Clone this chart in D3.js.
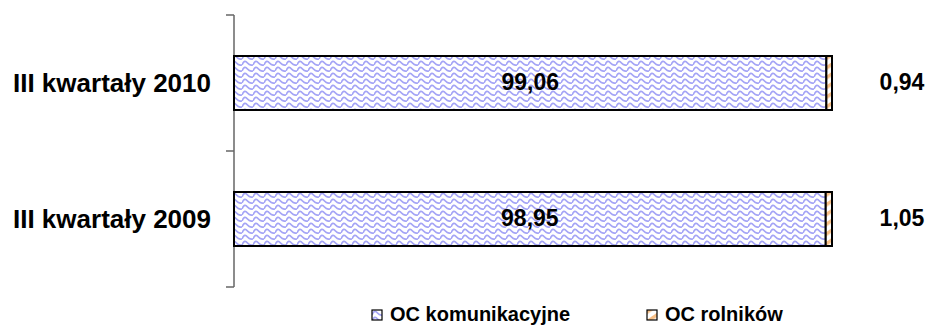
<!DOCTYPE html>
<html>
<head>
<meta charset="utf-8">
<script src="https://cdn.jsdelivr.net/npm/d3@7"></script>
<style>
	body { margin: 0; background: #fff; }
	svg { display: block; font-family: "Liberation Sans", Arial, sans-serif; font-weight: bold; }
</style>
</head>
<body>
<svg id="chart"></svg>
<script>
let width = 938;
let height = 327;
// dane z wykresu (udział w %)
const categories = ['III kwartały 2010', 'III kwartały 2009'];
const seriesNames = ['OC komunikacyjne', 'OC rolników'];
const komunikacyjne = [99.06, 98.95];
const rolnikow = [0.94, 1.05];

const svg = d3.select('#chart').attr('width', width).attr('height', height);
const defs = svg.append('defs');

// wzór falisty (niebieski)
let wave = defs.append('pattern')
	.attr('id', 'wave')
	.attr('patternUnits', 'userSpaceOnUse')
	.attr('width', 11)
	.attr('height', 6);
wave.append('rect').attr('width', 11).attr('height', 6).attr('fill', '#fff');
wave.append('path')
	.attr('d', 'M0,4.8 C2,0.6 3.5,0.6 5.5,3 S9,5.6 11,4.8')
	.attr('fill', 'none')
	.attr('stroke', '#a4a4f6')
	.attr('stroke-width', 1.7);

// wzór ukośny (pomarańczowy)
let hatch = defs.append('pattern')
	.attr('id', 'hatch')
	.attr('patternUnits', 'userSpaceOnUse')
	.attr('width', 8)
	.attr('height', 8)
	.attr('patternTransform', 'rotate(-35)');
hatch.append('rect').attr('width', 8).attr('height', 8).attr('fill', '#fff');
hatch.append('rect').attr('width', 8).attr('height', 3.5).attr('fill', '#f7bf86');

let x = d3.scaleLinear().domain([0, 100]).range([234, 832]);
let y = d3.scaleBand().domain(categories).range([15, 287])
	.paddingInner(0.603).paddingOuter(0.3015);

// oś pionowa z kreskami
let axisG = svg.append('g').attr('stroke', '#666').attr('stroke-width', 1.5);
axisG.append('line').attr('x1', 234).attr('x2', 234).attr('y1', 15).attr('y2', 287);
let ticks = [15, 15 + y.step(), 287];
axisG.selectAll('line.t')
	.data(ticks)
	.enter()
	.append('line')
	.attr('class', 't')
	.attr('x1', 226).attr('x2', 234)
	.attr('y1', (d) => d).attr('y2', (d) => d);

// etykiety kategorii
svg.append('g')
	.selectAll('text')
	.data(categories)
	.enter()
	.append('text')
	.attr('x', 211)
	.attr('y', (d) => y(d) + y.bandwidth() / 2 + 8.5)
	.attr('text-anchor', 'end')
	.attr('font-size', 26)
	.attr('fill', '#000')
	.text((d) => d);

let rows = categories.map((c, i) => ({ cat: c, a: komunikacyjne[i], b: rolnikow[i] }));

let bars = svg.append('g');
bars.selectAll('rect.a')
	.data(rows)
	.enter()
	.append('rect')
	.attr('class', 'a')
	.attr('x', x(0))
	.attr('y', (d) => y(d.cat))
	.attr('width', (d) => x(d.a) - x(0))
	.attr('height', y.bandwidth())
	.attr('fill', 'url(#wave)')
	.attr('stroke', '#000')
	.attr('stroke-width', 2);
bars.selectAll('rect.b')
	.data(rows)
	.enter()
	.append('rect')
	.attr('class', 'b')
	.attr('x', (d) => x(d.a))
	.attr('y', (d) => y(d.cat))
	.attr('width', (d) => x(d.a + d.b) - x(d.a))
	.attr('height', y.bandwidth())
	.attr('fill', 'url(#hatch)')
	.attr('stroke', '#000')
	.attr('stroke-width', 2);

const fmt = (v) => v.toFixed(2).replace('.', ',');

// wartości
let labels = svg.append('g').attr('font-size', 23).attr('fill', '#000');
labels.selectAll('text.a')
	.data(rows)
	.enter()
	.append('text')
	.attr('x', (d) => (x(0) + x(d.a)) / 2)
	.attr('y', (d) => y(d.cat) + y.bandwidth() / 2 + 7)
	.attr('text-anchor', 'middle')
	.text((d) => fmt(d.a));
labels.selectAll('text.b')
	.data(rows)
	.enter()
	.append('text')
	.attr('x', (d) => x(100) + 70)
	.attr('y', (d) => y(d.cat) + y.bandwidth() / 2 + 7)
	.attr('text-anchor', 'middle')
	.text((d) => fmt(d.b));

// legenda
let legendX = [372, 647];
let legend = svg.append('g')
	.selectAll('g')
	.data(seriesNames)
	.enter()
	.append('g')
	.attr('transform', (d, i) => 'translate(' + legendX[i] + ',310)');
legend.append('rect')
	.attr('width', 10).attr('height', 10)
	.attr('fill', (d, i) => i === 0 ? 'url(#wave)' : 'url(#hatch)')
	.attr('stroke', '#000')
	.attr('stroke-width', 1.2);
legend.append('text')
	.attr('x', 18)
	.attr('y', 10.5)
	.attr('font-size', 20)
	.attr('fill', '#000')
	.text((d) => d);
</script>
</body>
</html>
